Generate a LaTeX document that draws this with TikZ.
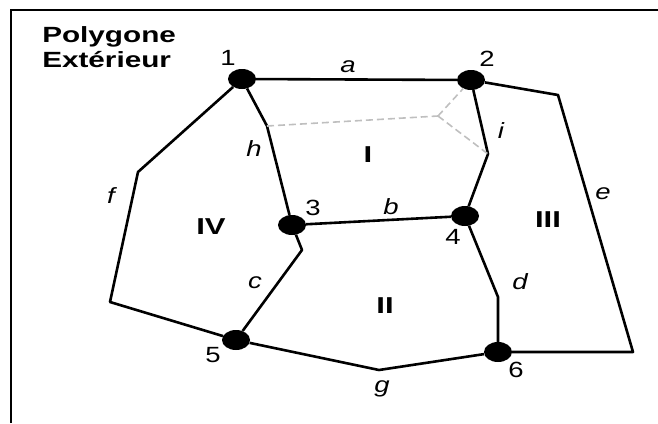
\documentclass[tikz,border=0pt]{standalone}
\usepackage{fontspec}
\setmainfont{Liberation Sans}
\usetikzlibrary{shapes.geometric}

\begin{document}
\begin{tikzpicture}[
    x=1pt, y=-1pt,
    % Styling for graph elements
    vertex/.style={ellipse, fill=black, inner sep=0pt, minimum width=28pt, minimum height=20pt},
    edge/.style={line width=2.6pt, line join=round},
    ghost/.style={dash pattern=on 7pt off 4pt, color=gray!50, line width=1.6pt},
    num/.style={font=\fontsize{22}{22}\selectfont, xscale=1.25, inner sep=0pt},
    elabel/.style={font=\fontsize{22}{22}\selectfont\itshape, xscale=1.25, inner sep=0pt},
    region/.style={font=\fontsize{23}{23}\selectfont\bfseries, xscale=1.35, inner sep=0pt},
    title/.style={font=\fontsize{22}{25}\selectfont\bfseries, xscale=1.35, align=left, inner sep=0pt}
]
    \useasboundingbox (0,0) rectangle (658,423);

    % Frame
    \draw[line width=2.5pt] (11,423) -- (11,10) -- (658,10);

    % Title
    \node[title, anchor=north west] (title) at (42,26) {Polygone\\Extérieur};

    % Vertices
    \node[vertex] (v1) at (242,79)  {};
    \node[vertex] (v2) at (471,80)  {};
    \node[vertex] (v3) at (292,225) {};
    \node[vertex] (v4) at (465,216) {};
    \node[vertex] (v5) at (236,340) {};
    \node[vertex] (v6) at (498,352) {};

    % Bend points
    \coordinate (f1) at (138,172);
    \coordinate (f2) at (110,302);
    \coordinate (h1) at (267,126);
    \coordinate (i1) at (488,154);
    \coordinate (e1) at (558,95);
    \coordinate (e2) at (633,352);
    \coordinate (c1) at (302,250);
    \coordinate (d1) at (498,297);
    \coordinate (g1) at (379,370);
    \coordinate (q)  at (438,116);

    % Edges
    \draw[edge] (v1) -- (v2);
    \draw[edge] (v3) -- (v4);
    \draw[edge] (v1) -- (f1) -- (f2) -- (v5);
    \draw[edge] (v1) -- (h1) -- (v3);
    \draw[edge] (v2) -- (i1) -- (v4);
    \draw[edge] (v2) -- (e1) -- (e2) -- (v6);
    \draw[edge] (v3) -- (c1) -- (v5);
    \draw[edge] (v4) -- (d1) -- (v6);
    \draw[edge] (v5) -- (g1) -- (v6);

    % Dashed construction lines
    \draw[ghost] (h1) -- (q);
    \draw[ghost] (q) -- (v2);
    \draw[ghost] (q) -- (i1);

    % Vertex numbers
    \node[num] (n1) at (228,58)  {1};
    \node[num] (n2) at (487,59)  {2};
    \node[num] (n3) at (313,208) {3};
    \node[num] (n4) at (453,237) {4};
    \node[num] (n5) at (213,355) {5};
    \node[num] (n6) at (516,370) {6};

    % Edge names
    \node[elabel] (la) at (348,67)  {a};
    \node[elabel] (lb) at (391,207) {b};
    \node[elabel] (lc) at (255,283) {c};
    \node[elabel] (ld) at (520,282) {d};
    \node[elabel] (le) at (603,194) {e};
    \node[elabel] (lf) at (111,196) {f};
    \node[elabel] (lg) at (382,389) {g};
    \node[elabel] (lh) at (254,149) {h};
    \node[elabel] (li) at (501,131) {i};

    % Regions
    \node[region] (r1) at (368,155) {I};
    \node[region] (r2) at (385,306) {II};
    \node[region] (r3) at (548,220) {III};
    \node[region] (r4) at (211,227) {IV};

\end{tikzpicture}
\end{document}
